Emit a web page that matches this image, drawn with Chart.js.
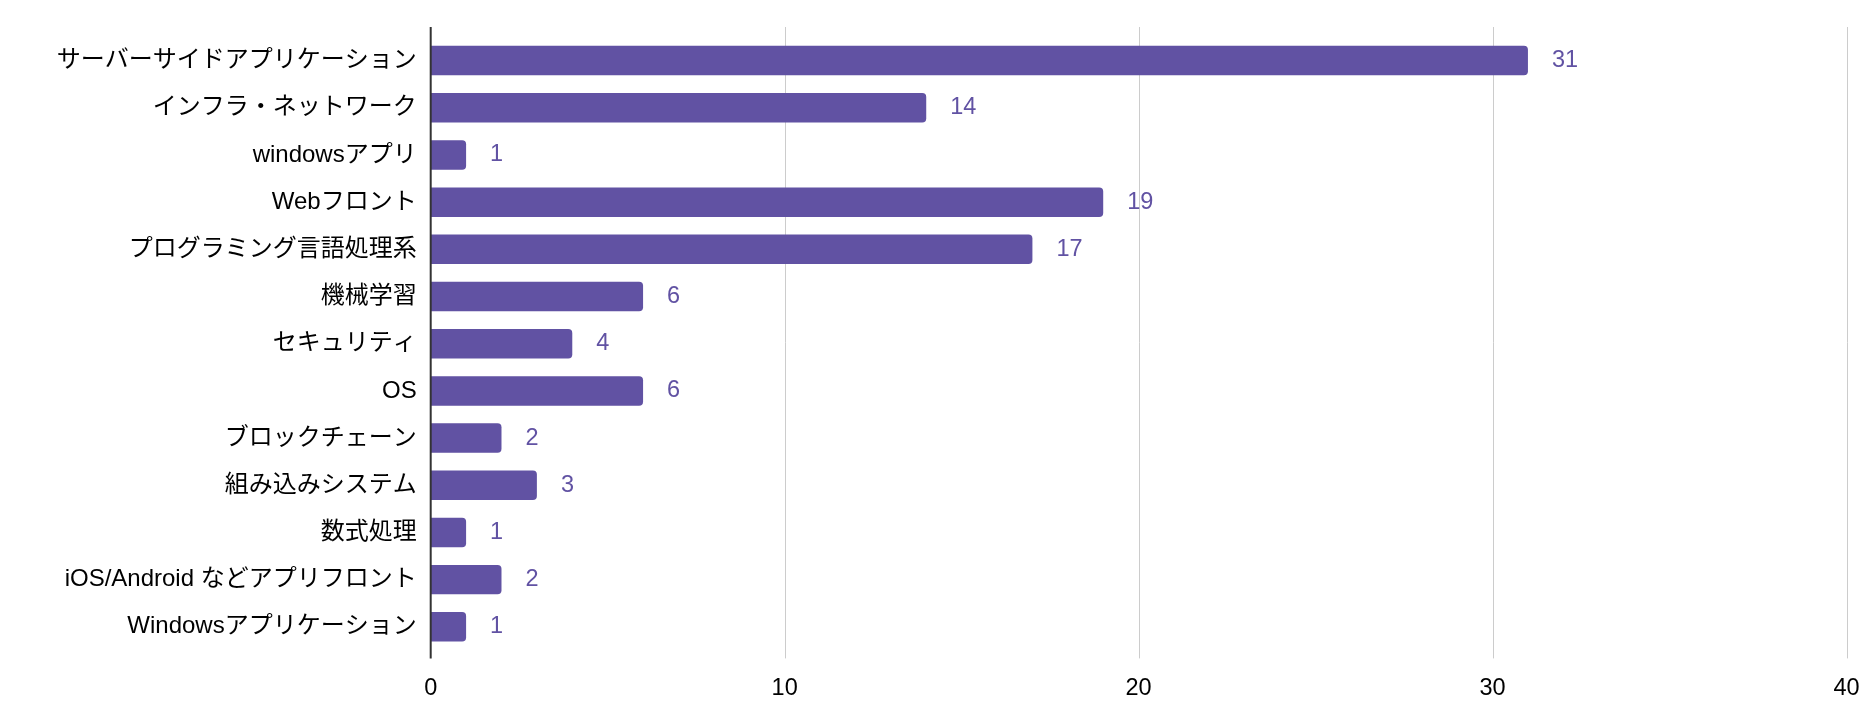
<!DOCTYPE html>
<html>
<head>
<meta charset="utf-8">
<script src="https://cdn.jsdelivr.net/npm/chart.js@4"></script>
<style>
  html, body { margin: 0; padding: 0; background: #ffffff; }
  #c { display: block; }
</style>
</head>
<body>
<canvas id="c" width="1876" height="720"></canvas>
<script>
const categories = [
  "サーバーサイドアプリケーション",
  "インフラ・ネットワーク",
  "windowsアプリ",
  "Webフロント",
  "プログラミング言語処理系",
  "機械学習",
  "セキュリティ",
  "OS",
  "ブロックチェーン",
  "組み込みシステム",
  "数式処理",
  "iOS/Android などアプリフロント",
  "Windowsアプリケーション"
];
const counts = [31, 14, 1, 19, 17, 6, 4, 6, 2, 3, 1, 2, 1];
const xTicks = [0, 10, 20, 30, 40];

const FONT = "'Liberation Sans', Arial, 'Noto Sans CJK JP', sans-serif";
const BAR_COLOR = '#6152a3';

const gridPlugin = {
  id: 'gridExt',
  beforeDatasetsDraw(chart) {
    const { ctx, chartArea, scales } = chart;
    const x = scales.x;
    ctx.save();
    ctx.strokeStyle = '#cccccc';
    ctx.lineWidth = 1;
    xTicks.forEach(v => {
      if (v === 0) return;
      const px = Math.round(x.getPixelForValue(v)) + 0.5;
      ctx.beginPath();
      ctx.moveTo(px, chartArea.top - 10);
      ctx.lineTo(px, chartArea.bottom + 8);
      ctx.stroke();
    });
    ctx.restore();
  },
  afterDatasetsDraw(chart) {
    const { ctx, chartArea, scales } = chart;
    const x = scales.x;
    ctx.save();
    ctx.strokeStyle = '#333333';
    ctx.lineWidth = 2;
    const px0 = x.getPixelForValue(0);
    ctx.beginPath();
    ctx.moveTo(px0, chartArea.top - 10);
    ctx.lineTo(px0, chartArea.bottom + 8);
    ctx.stroke();
    const meta = chart.getDatasetMeta(0);
    ctx.fillStyle = BAR_COLOR;
    ctx.font = '23.5px ' + FONT;
    ctx.textAlign = 'left';
    ctx.textBaseline = 'middle';
    meta.data.forEach((bar, i) => {
      ctx.fillText(String(counts[i]), bar.x + 24, bar.y);
    });
    ctx.restore();
  }
};

new Chart(document.getElementById('c'), {
  type: 'bar',
  data: {
    labels: categories,
    datasets: [{
      data: counts,
      backgroundColor: BAR_COLOR,
      borderWidth: 0,
      borderRadius: 4,
      barPercentage: 0.625,
      categoryPercentage: 1.0
    }]
  },
  options: {
    indexAxis: 'y',
    responsive: false,
    animation: false,
    devicePixelRatio: 1,
    layout: { padding: { top: 37, right: 29.5, left: 0, bottom: 0 } },
    plugins: {
      legend: { display: false },
      tooltip: { enabled: false },
      title: { display: false }
    },
    scales: {
      x: {
        type: 'linear',
        min: 0,
        max: 40,
        afterBuildTicks(scale) {
          scale.ticks = xTicks.map(v => ({ value: v }));
        },
        afterFit(scale) { scale.height = 69.6; },
        grid: { display: false },
        border: { display: false },
        ticks: {
          color: '#000000',
          padding: 16,
          font: { family: FONT, size: 23.5 }
        }
      },
      y: {
        afterFit(scale) { scale.width = 430.7; },
        grid: { display: false, drawTicks: false },
        border: { display: false },
        ticks: {
          color: '#000000',
          padding: 14,
          font: { family: FONT, size: 24 }
        }
      }
    }
  },
  plugins: [gridPlugin]
});
</script>
</body>
</html>
